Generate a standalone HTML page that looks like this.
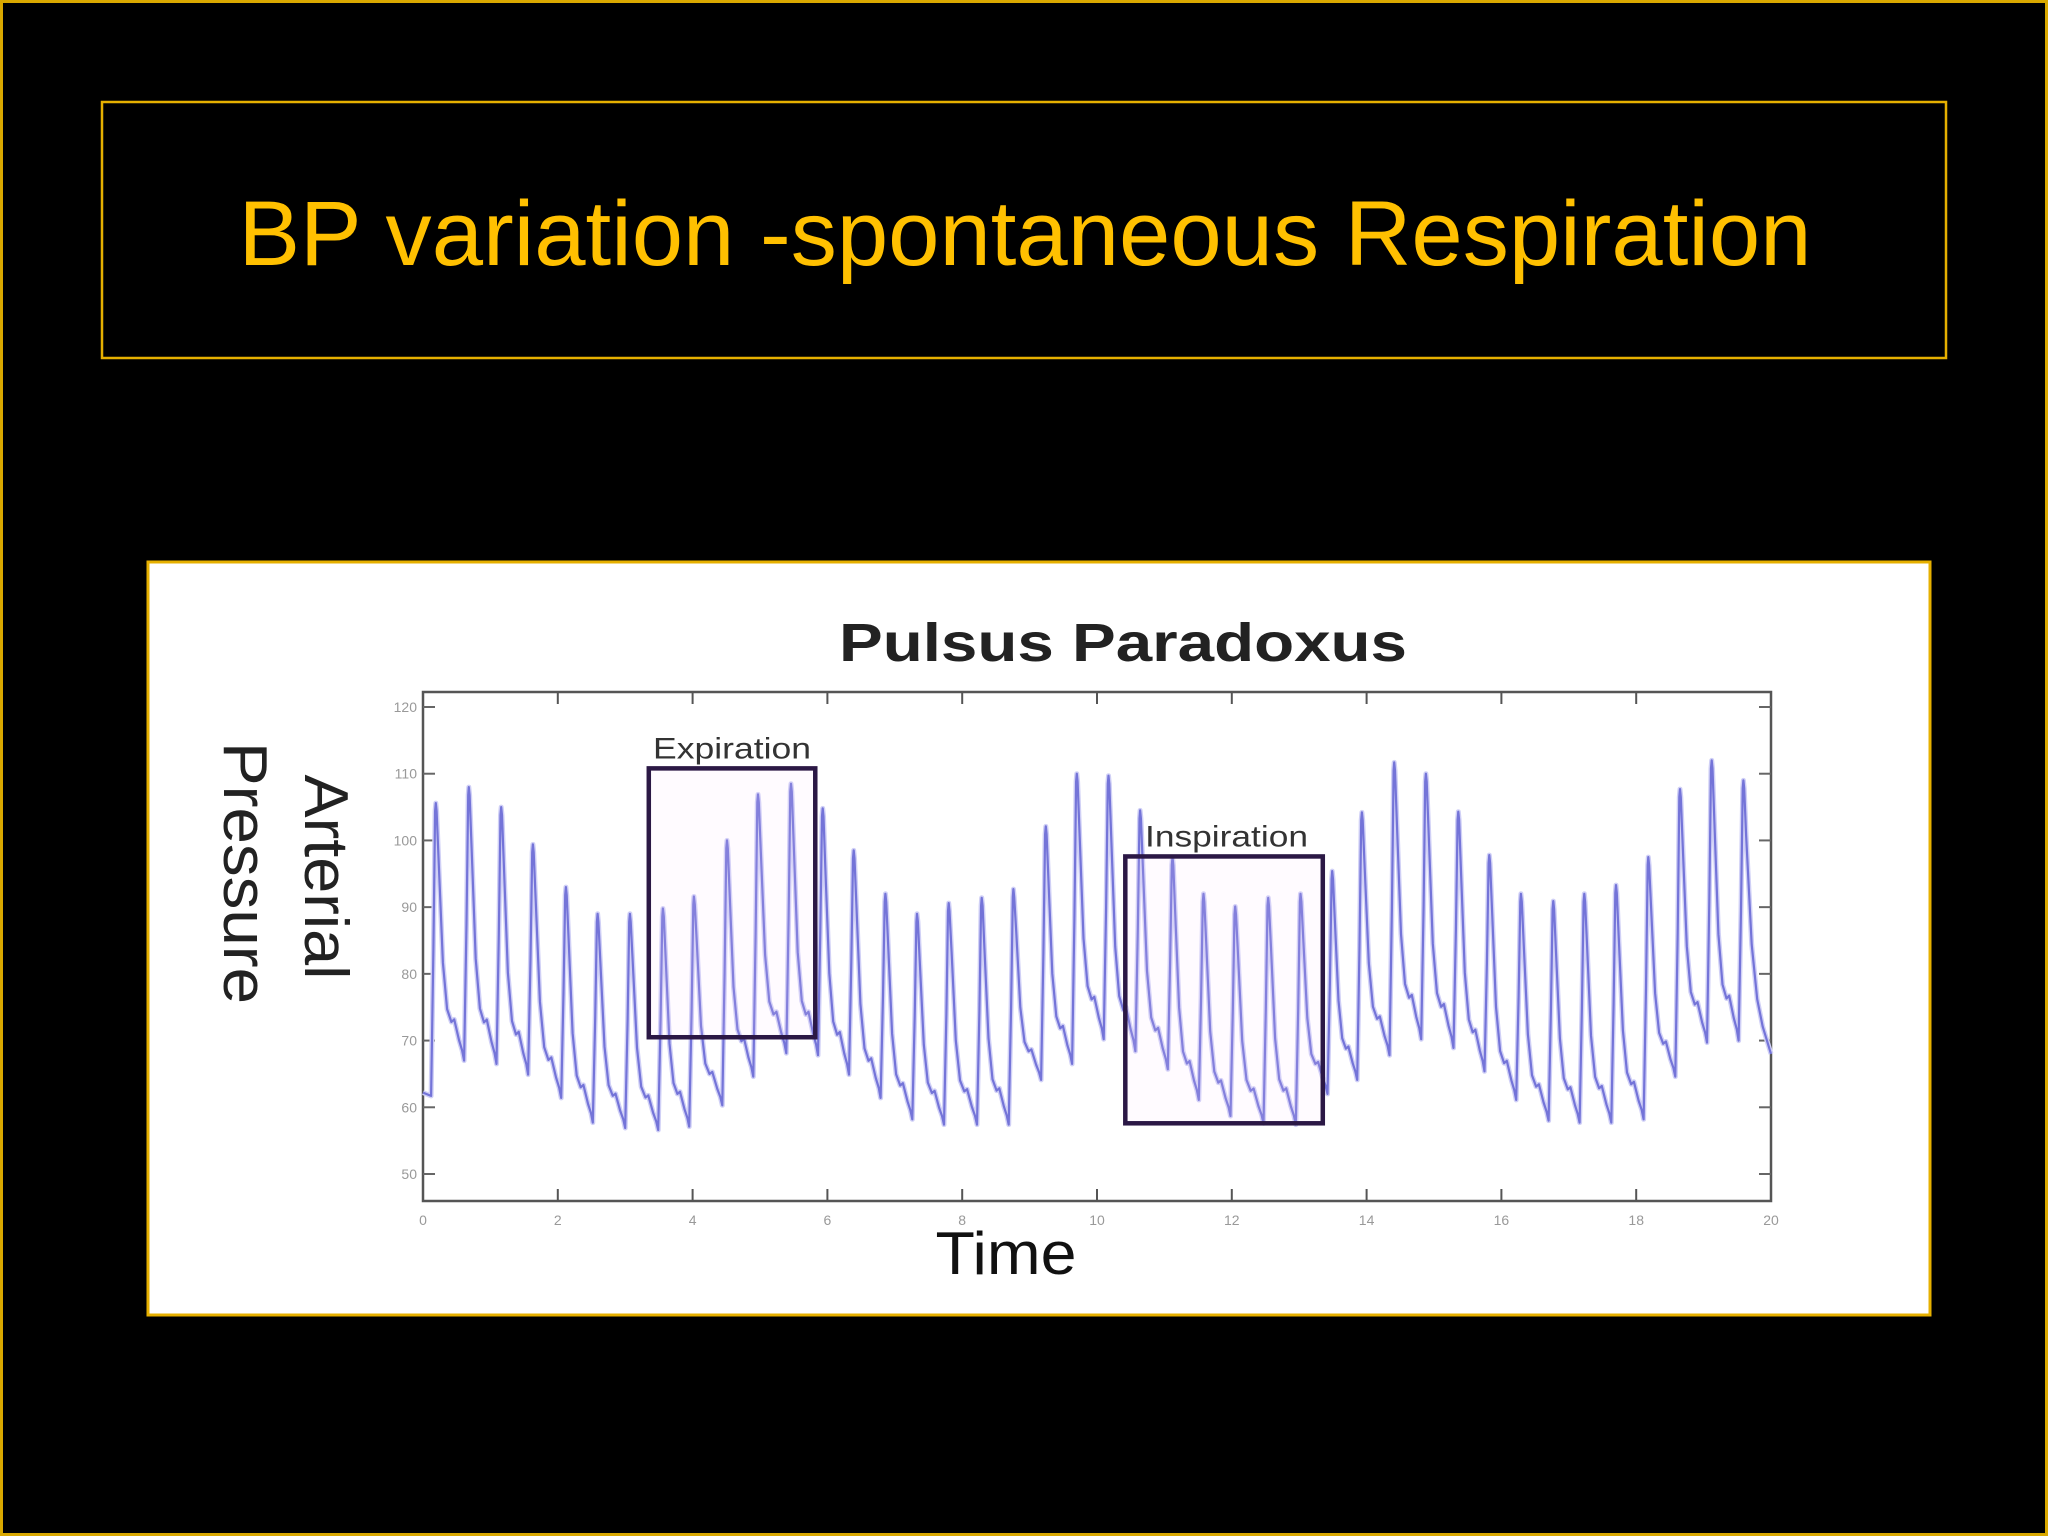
<!DOCTYPE html>
<html><head><meta charset="utf-8"><style>
html,body{margin:0;padding:0;background:#000;}
svg{display:block;}
</style></head><body>
<svg id="slide" width="2048" height="1536" viewBox="0 0 2048 1536" xmlns="http://www.w3.org/2000/svg">
<rect x="1.5" y="1.5" width="2045" height="1533" fill="#000" stroke="#d9a800" stroke-width="3"/>
<rect x="102" y="102" width="1844" height="256" fill="none" stroke="#e6b000" stroke-width="2.5"/>
<text x="1025" y="265" text-anchor="middle" font-family="Liberation Sans, sans-serif" font-size="92" fill="#ffc000" textLength="1573" lengthAdjust="spacingAndGlyphs">BP variation -spontaneous Respiration</text>
<rect x="148" y="562" width="1782" height="753" fill="#fff" stroke="#e6b000" stroke-width="3"/>
<text x="1123" y="661" text-anchor="middle" font-family="Liberation Sans, sans-serif" font-weight="bold" font-size="54" fill="#222" textLength="568" lengthAdjust="spacingAndGlyphs">Pulsus Paradoxus</text>
<text x="1006" y="1274" text-anchor="middle" font-family="Liberation Sans, sans-serif" font-size="60" fill="#111" textLength="141" lengthAdjust="spacingAndGlyphs">Time</text>
<g font-family="Liberation Sans, sans-serif" font-size="62" fill="#222">
<text transform="translate(305,877) rotate(90)" text-anchor="middle" textLength="205" lengthAdjust="spacingAndGlyphs">Arterial</text>
<text transform="translate(224,873) rotate(90)" text-anchor="middle" textLength="262" lengthAdjust="spacingAndGlyphs">Pressure</text>
</g>
<g id="plot"></g>
</svg>
<script>
const xTicks = [0,2,4,6,8,10,12,14,16,18,20];
const yTicks = [50,60,70,80,90,100,110,120];
const peakTimes = [0.19,0.68,1.16,1.63,2.12,2.59,3.07,3.56,4.02,4.51,4.97,5.46,5.93,6.39,6.86,7.33,7.80,8.29,8.76,9.24,9.70,10.17,10.64,11.12,11.58,12.05,12.54,13.02,13.49,13.93,14.41,14.88,15.36,15.82,16.29,16.77,17.23,17.70,18.18,18.65,19.12,19.59];
const peakValues = [105.6,108,105,99.4,93,89,89,89.8,91.6,100,106.9,108.5,104.8,98.5,92,89,90.6,91.4,92.7,102.1,110,109.7,104.5,97.5,92,90.1,91.4,92,95.4,104.2,111.7,110,104.3,97.8,92,90.9,92,93.3,97.5,107.7,112,109];
const troughValues = [61.7,67,66.5,64.9,61.4,57.7,56.9,56.6,57.1,60.3,64.6,68.1,67.8,64.9,61.4,58.2,57.4,57.4,57.4,64.1,66.5,70.2,68.4,65.7,61.1,58.7,57.6,57.4,62,64.1,67.8,70.2,68.9,65.4,61.1,58,57.7,57.7,58.2,64.6,69.7,70];
const endValue = 68;
const expirationBox = {t0:3.35, t1:5.82, v0:70.5, v1:110.8};
const inspirationBox = {t0:10.42, t1:13.35, v0:57.6, v1:97.6};

const X0=423, X1=1771, Y120=707, Y50=1174, YT=692, YB=1201;
const xs = t => X0 + (t/20)*(X1-X0);
const ys = v => Y120 + (120-v)*(Y50-Y120)/70;
const NS='http://www.w3.org/2000/svg';
const plot=document.getElementById('plot');
function mk(tag,attrs){const e=document.createElementNS(NS,tag);for(const k in attrs)e.setAttribute(k,attrs[k]);plot.appendChild(e);return e;}

const frame=mk('rect',{x:X0,y:YT,width:X1-X0,height:YB-YT,fill:'none',stroke:'#555','stroke-width':2.5});


xTicks.forEach(t=>{
  const x=xs(t);
  const a=mk('line',{x1:x,y1:YB,x2:x,y2:YB-12,stroke:'#555','stroke-width':2});
  
  
  const b=mk('line',{x1:x,y1:YT,x2:x,y2:YT+12,stroke:'#555','stroke-width':2});
  
  
  const l=mk('text',{x:x,y:YB+24,'text-anchor':'middle','font-family':'Liberation Sans, sans-serif','font-size':14,fill:'#999'});
  l.textContent=t;
  
  
});
yTicks.forEach(v=>{
  const y=ys(v);
  const a=mk('line',{x1:X0,y1:y,x2:X0+12,y2:y,stroke:'#666','stroke-width':2});
  
  
  const b=mk('line',{x1:X1,y1:y,x2:X1-12,y2:y,stroke:'#666','stroke-width':2});
  
  
  const l=mk('text',{x:X0-6,y:y+5,'text-anchor':'end','font-family':'Liberation Sans, sans-serif','font-size':14,fill:'#999'});
  l.textContent=v;
  
  
});

let pts=[[0,troughValues[0]+0.5]];
for(let i=0;i<peakTimes.length;i++){
  const tp=peakTimes[i], pk=peakValues[i], tr=troughValues[i];
  const tStart=Math.max(0.005,tp-0.07);
  pts.push([tStart,tr]);
  pts.push([tp-0.035,tr+0.5*(pk-tr)]);
  pts.push([tp-0.01,pk-1.2]);
  pts.push([tp,pk]);
  pts.push([tp+0.012,pk-1.2]);
  const last = i===peakTimes.length-1;
  const tn = last ? 20 : peakTimes[i+1]-0.07;
  const vn = last ? endValue : troughValues[i+1];
  const D=tn-tp, A=pk-vn;
  const prof = last ? [[0.1,0.8],[0.3,0.4],[0.5,0.2],[0.7,0.1],[1,0]] :
    [[0.1,0.78],[0.25,0.38],[0.4,0.2],[0.55,0.15],[0.65,0.16],[0.82,0.08],[0.93,0.04],[1,0]];
  prof.forEach(p=>{ if(!(last&&p[0]===1)) pts.push([tp+p[0]*D, vn+p[1]*A]); });
  if(last) pts.push([20,endValue]);
}
const d=pts.map((p,i)=>(i?'L':'M')+xs(p[0]).toFixed(1)+','+ys(p[1]).toFixed(1)).join(' ');
const halo=mk('path',{d:d,fill:'none',stroke:'#d0d0f6','stroke-width':5,'stroke-linejoin':'round'});


const line=mk('path',{d:d,fill:'none',stroke:'#7474d8','stroke-width':2.2,'stroke-linejoin':'round'});



function box(b,name,label,lx,len){
  const r=mk('rect',{x:xs(b.t0),y:ys(b.v1),width:xs(b.t1)-xs(b.t0),height:ys(b.v0)-ys(b.v1),fill:'rgba(255,220,255,0.12)',stroke:'#2b1845','stroke-width':4.5});
  
  
  const t=mk('text',{x:lx,y:ys(b.v1)-10,'font-family':'Liberation Sans, sans-serif','font-size':30,fill:'#333',textLength:len,lengthAdjust:'spacingAndGlyphs'});
  t.textContent=label;
  
  
}
box(expirationBox,'expiration','Expiration',653,158);
box(inspirationBox,'inspiration','Inspiration',1145,163);
</script>
</body></html>
